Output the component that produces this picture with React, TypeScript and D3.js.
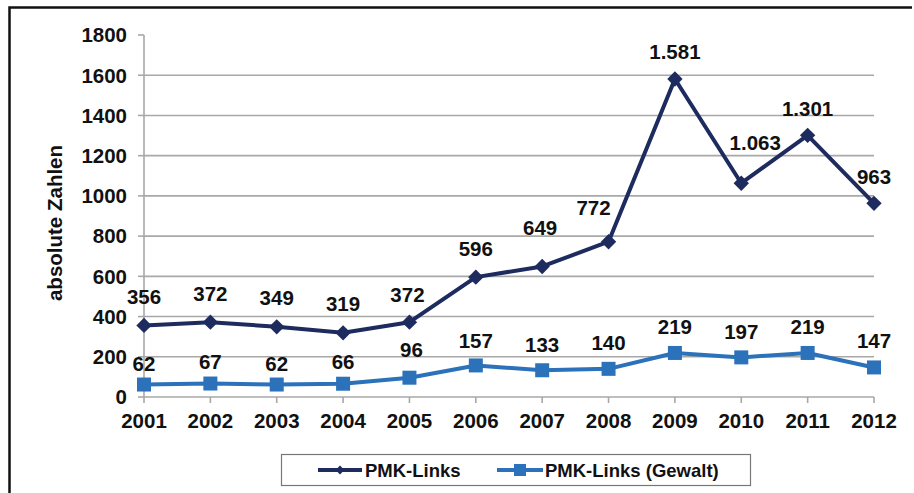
import React from "react";
import * as d3 from "d3";

const years = ["2001", "2002", "2003", "2004", "2005", "2006", "2007", "2008", "2009", "2010", "2011", "2012"];
const pmkLinks = [356, 372, 349, 319, 372, 596, 649, 772, 1581, 1063, 1301, 963];
const pmkGewalt = [62, 67, 62, 66, 96, 157, 133, 140, 219, 197, 219, 147];
const yTicks = [0, 200, 400, 600, 800, 1000, 1200, 1400, 1600, 1800];
const seriesNames = ["PMK-Links", "PMK-Links (Gewalt)"];

// label placement offsets (layout)
const darkLabelDx = [0, 0, 0, 0, -2, 0, -2, -15, 0, 14, 0, 0];
const darkLabelDy = [-29, -29, -29, -29, -28, -29, -39, -34, -27, -41, -27, -27];
const blueLabelDx = [0, 0, 0, 0, 2, 0, 0, 0, 0, 0, 0, 0];
const blueLabelDy = [-21, -22, -21, -22, -28, -25, -26, -26, -26, -26, -26, -27];

const DARK = "#1d2b5e";
const BLUE = "#2b72ba";
const FONT = "'Liberation Sans', Arial, sans-serif";
const NUM = 20.5;

const de = d3.formatLocale({ decimal: ",", thousands: ".", grouping: [3], currency: ["", "€"] });
const fmt = de.format(",d");

export default function App() {
  const W = 914, H = 493;
  const x = d3.scalePoint<string>().domain(years).range([144, 874]);
  const y = d3.scaleLinear().domain([0, 1800]).range([397, 35]);
  const lineGen = d3.line<number>().x((_, i) => x(years[i])!).y((d) => y(d));
  const diamond = d3.symbol().type(d3.symbolDiamond2).size(150)()!;

  return (
    <svg width={W} height={H} style={{ position: "absolute", left: 0, top: 0, background: "#fff" }}>
      {/* outer frame */}
      <path d={`M9.5,${H} V7.5 H912`} fill="none" stroke="#111" strokeWidth={2.5} />

      {/* gridlines */}
      {yTicks.filter((t) => t > 0 && t < 1800).map((t) => (
        <line key={t} x1={144} x2={874} y1={y(t)} y2={y(t)} stroke="#a8a8a8" strokeWidth={1.6} />
      ))}
      {/* y axis */}
      <line x1={144} x2={144} y1={y(1800)} y2={y(0)} stroke="#a8a8a8" strokeWidth={1.6} />
      {yTicks.map((t) => (
        <g key={t}>
          <line x1={138} x2={144} y1={y(t)} y2={y(t)} stroke="#a8a8a8" strokeWidth={1.6} />
          <text x={127} y={y(t)} dy="0.36em" textAnchor="end" fontFamily={FONT} fontWeight="bold" fontSize={NUM} fill="#111">
            {t}
          </text>
        </g>
      ))}
      {/* x axis */}
      <line x1={144} x2={874} y1={y(0)} y2={y(0)} stroke="#a8a8a8" strokeWidth={1.6} />
      {years.map((yr) => (
        <g key={yr}>
          <line x1={x(yr)} x2={x(yr)} y1={y(0)} y2={y(0) + 6} stroke="#a8a8a8" strokeWidth={1.6} />
          <text x={x(yr)} y={428} textAnchor="middle" fontFamily={FONT} fontWeight="bold" fontSize={NUM} fill="#111">
            {yr}
          </text>
        </g>
      ))}

      {/* y title */}
      <text transform="translate(62,223) rotate(-90)" textAnchor="middle" fontFamily={FONT} fontWeight="bold" fontSize={20.5} fill="#111">
        absolute Zahlen
      </text>

      {/* series: Gewalt */}
      <path d={lineGen(pmkGewalt)!} fill="none" stroke={BLUE} strokeWidth={4} strokeLinejoin="round" />
      {pmkGewalt.map((v, i) => (
        <rect key={i} x={x(years[i])! - 7} y={y(v) - 7} width={14} height={14} fill={BLUE} />
      ))}
      {/* series: PMK-Links */}
      <path d={lineGen(pmkLinks)!} fill="none" stroke={DARK} strokeWidth={4} strokeLinejoin="round" />
      {pmkLinks.map((v, i) => (
        <path key={i} d={diamond} transform={`translate(${x(years[i])},${y(v)})`} fill={DARK} />
      ))}

      {/* data labels */}
      {pmkLinks.map((v, i) => (
        <text key={"d" + i} x={x(years[i])! + darkLabelDx[i]} y={y(v) + darkLabelDy[i]} dy="0.36em" textAnchor="middle"
          fontFamily={FONT} fontWeight="bold" fontSize={NUM} fill="#111">
          {fmt(v)}
        </text>
      ))}
      {pmkGewalt.map((v, i) => (
        <text key={"b" + i} x={x(years[i])! + blueLabelDx[i]} y={y(v) + blueLabelDy[i]} dy="0.36em" textAnchor="middle"
          fontFamily={FONT} fontWeight="bold" fontSize={NUM} fill="#111">
          {fmt(v)}
        </text>
      ))}

      {/* legend */}
      <rect x={281.5} y={454.5} width={469} height={31} fill="#fff" stroke="#777" strokeWidth={1.2} />
      <line x1={318} x2={362} y1={470} y2={470} stroke={DARK} strokeWidth={4} />
      <path d={d3.symbol().type(d3.symbolDiamond2).size(50)()!} transform="translate(340,470)" fill={DARK} />
      <text x={365} y={470} dy="0.36em" fontFamily={FONT} fontWeight="bold" fontSize={18.5} fill="#111">{seriesNames[0]}</text>
      <line x1={497} x2={543} y1={470} y2={470} stroke={BLUE} strokeWidth={4} />
      <rect x={514} y={464} width={12} height={12} fill={BLUE} />
      <text x={545} y={470} dy="0.36em" fontFamily={FONT} fontWeight="bold" fontSize={18.5} fill="#111">{seriesNames[1]}</text>
    </svg>
  );
}
